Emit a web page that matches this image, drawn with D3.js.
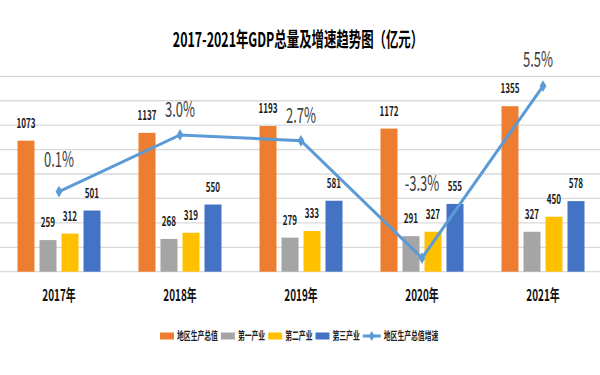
<html><head>
<meta charset="utf-8">
<title>GDP</title>
<script src="https://d3js.org/d3.v7.min.js"></script>
<style>
  body { margin: 0; background: #fff; }
  text { font-family: "Noto Sans CJK SC", "Noto Sans", sans-serif; }
</style>
</head>
<body>
<div id="chart"></div>
<script>
// data
var years = ["2017年", "2018年", "2019年", "2020年", "2021年"];
var seriesNames = ["地区生产总值", "第一产业", "第二产业", "第三产业"];
var gdpTotal = [1073, 1137, 1193, 1172, 1355];
var primary = [259, 268, 279, 291, 327];
var secondary = [312, 319, 333, 327, 450];
var tertiary = [501, 550, 581, 555, 578];
var growth = [0.1, 3.0, 2.7, -3.3, 5.5];
var lineName = "地区生产总值增速";
var yTicks = [0, 200, 400, 600, 800, 1000, 1200, 1400, 1600];

var colors = ["#ED7D31", "#A5A5A5", "#FFC000", "#4472C4"];
var lineColor = "#5B9BD5";
var squeezeK = 0.62;
// extra lift of the growth labels (the -3.3% one sits above the bars)
var growthLift = [25, 18, 18, 67, 19];

var W = 600, H = 375;
var svg = d3.select("#chart").append("svg")
    .attr("width", W).attr("height", H);

// make text condensed like the source image
function squeeze(sel) {
  sel.each(function() {
    var w = this.getComputedTextLength() * squeezeK;
    d3.select(this).attr("textLength", w).attr("lengthAdjust", "spacingAndGlyphs")
      .property("__w", w);
  });
}

var plotTop = 76.3, plotBottom = 271.7;

var x0 = d3.scaleBand().domain(years).range([-1.5, 603.5])
    .paddingInner(0.314).paddingOuter(0.157);
var x1 = d3.scaleBand().domain(seriesNames).range([0, x0.bandwidth()])
    .paddingInner(0.227);
var y = d3.scaleLinear().domain([0, 1600]).range([plotBottom, plotTop]);
var y2 = d3.scaleLinear().domain([-4, 6]).range([plotBottom, plotTop]);

// gridlines
svg.append("g").selectAll("line").data(yTicks).enter().append("line")
    .attr("x1", 0).attr("x2", W)
    .attr("y1", function(d) { return y(d); })
    .attr("y2", function(d) { return y(d); })
    .attr("stroke", "#d9d9d9").attr("stroke-width", 1.3);

// title
svg.append("text")
    .attr("x", 298).attr("y", 47)
    .attr("text-anchor", "middle")
    .style("font-size", "20px").style("font-weight", "bold").attr("fill", "#000")
    .text("2017-2021年GDP总量及增速趋势图（亿元）")
    .call(squeeze);

var table = years.map(function(yr, i) {
  return { year: yr, values: [gdpTotal[i], primary[i], secondary[i], tertiary[i]] };
});

var groups = svg.append("g").selectAll("g").data(table).enter().append("g")
    .attr("transform", function(d) { return "translate(" + x0(d.year) + ",0)"; });

groups.selectAll("rect").data(function(d) {
    return d.values.map(function(v, j) { return { name: seriesNames[j], v: v, j: j }; });
  }).enter().append("rect")
    .attr("x", function(d) { return x1(d.name); })
    .attr("width", x1.bandwidth())
    .attr("y", function(d) { return y(d.v); })
    .attr("height", function(d) { return plotBottom - y(d.v); })
    .attr("fill", function(d) { return colors[d.j]; });

groups.selectAll("text.val").data(function(d) {
    return d.values.map(function(v, j) { return { name: seriesNames[j], v: v }; });
  }).enter().append("text")
    .attr("class", "val")
    .attr("x", function(d) { return x1(d.name) + x1.bandwidth() / 2; })
    .attr("y", function(d) { return y(d.v) - 13; })
    .attr("text-anchor", "middle")
    .style("font-size", "13px").style("font-weight", "bold").attr("fill", "#1a1a1a")
    .text(function(d) { return d.v; })
    .call(squeeze);

// year labels
svg.append("g").selectAll("text").data(years).enter().append("text")
    .attr("x", function(d) { return x0(d) + x0.bandwidth() / 2; })
    .attr("y", 301)
    .attr("text-anchor", "middle")
    .style("font-size", "16px").style("font-weight", "bold").attr("fill", "#111")
    .text(function(d) { return d; })
    .call(squeeze);

// growth line
var cx = function(i) { return x0(years[i]) + x0.bandwidth() / 2; };
svg.append("path")
    .datum(growth)
    .attr("fill", "none")
    .attr("stroke", lineColor)
    .attr("stroke-width", 3)
    .attr("d", d3.line()
      .x(function(d, i) { return cx(i); })
      .y(function(d) { return y2(d); }));

svg.append("g").selectAll("path").data(growth).enter().append("path")
    .attr("d", d3.symbol().type(d3.symbolDiamond).size(40))
    .attr("transform", function(d, i) { return "translate(" + cx(i) + "," + y2(d) + ")"; })
    .attr("fill", lineColor);

svg.append("g").selectAll("text").data(growth).enter().append("text")
    .attr("x", function(d, i) { return cx(i) - (i == 4 ? 5 : 0); })
    .attr("y", function(d, i) { return y2(d) - growthLift[i]; })
    .attr("text-anchor", "middle")
    .style("font-size", "21px").attr("fill", "#404040")
    .text(function(d) { return d.toFixed(1) + "%"; })
    .call(squeeze);

// legend
var legend = svg.append("g");
var lx = 160, ly = 336;
seriesNames.forEach(function(name, j) {
  legend.append("rect")
    .attr("x", lx).attr("y", ly - 3.5).attr("width", 14).attr("height", 7)
    .attr("fill", colors[j]);
  var t = legend.append("text")
    .attr("x", lx + 17).attr("y", ly + 4)
    .style("font-size", "11px").style("font-weight", "bold").attr("fill", "#222")
    .text(name).call(squeeze);
  lx += 17 + t.property("__w") + 3;
});
legend.append("line")
  .attr("x1", lx).attr("x2", lx + 18).attr("y1", ly).attr("y2", ly)
  .attr("stroke", lineColor).attr("stroke-width", 3);
legend.append("path")
  .attr("d", d3.symbol().type(d3.symbolDiamond).size(30))
  .attr("transform", "translate(" + (lx + 9) + "," + ly + ")")
  .attr("fill", lineColor);
legend.append("text")
  .attr("x", lx + 21).attr("y", ly + 4)
  .style("font-size", "11px").style("font-weight", "bold").attr("fill", "#222")
  .text(lineName).call(squeeze);
</script>
</body></html>
